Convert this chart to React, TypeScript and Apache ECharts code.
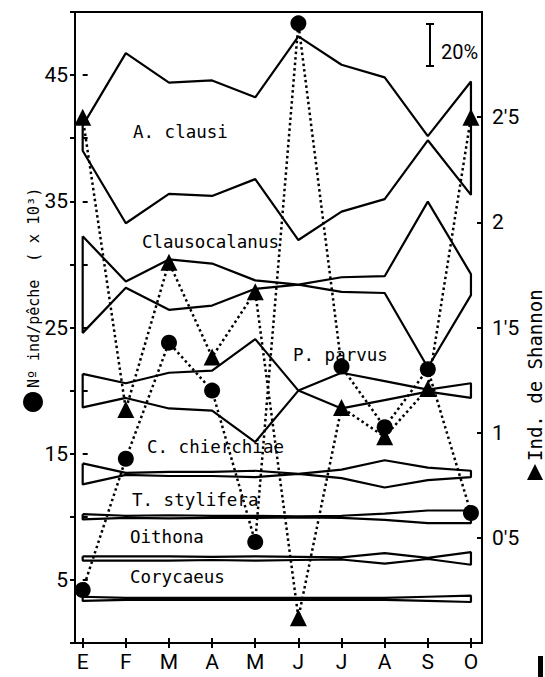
import React, { useEffect, useRef } from 'react';
import * as echarts from 'echarts';

// Months (x categories)
const months = ['E', 'F', 'M', 'A', 'M', 'J', 'J', 'A', 'S', 'O'];

// Nº ind/pêche (x 10^3) — circles, left axis
const individuals = [4.2, 14.6, 23.8, 20.0, 8.0, 49.1, 21.9, 17.1, 21.7, 10.3];
// Shannon index — triangles, right axis
const shannon = [2.5, 1.11, 1.81, 1.36, 1.67, 0.12, 1.12, 0.98, 1.21, 2.5];

// Kite diagrams: relative abundance (%) per month for each species
const speciesNames = ['A. clausi', 'Clausocalanus', 'P. parvus', 'C. chierchiae', 'T. stylifera', 'Oithona', 'Corycaeus'];
const aClausi = [12, 81, 53, 55, 39, 97, 70, 58, 2, 54];
const clausocalanus = [46, 3, 24, 20, 4, 0, 7, 8, 79, 10];
const pParvus = [16, 7, 17, 19, 49, 0, 17, 9, 1, 7];
const cChierchiae = [10, 1, 2, 2, 3, 0, 4, 13, 6, 3];
const tStylifera = [2.5, 1, 1.5, 1, 1, 0.5, 1, 3, 6, 6];
const oithona = [2, 2, 2, 1.5, 2, 1.5, 1, 5, 0.5, 6];
const corycaeus = [2, 1, 1, 1, 1, 1, 1, 1, 2, 3];
const speciesPct = [aClausi, clausocalanus, pParvus, cChierchiae, tStylifera, oithona, corycaeus];
// Kite centre lines (left-axis units)
const speciesBaselines = [40, 28.4, 20, 13.4, 10, 6.7, 3.5];

// Scale bar: 20% of abundance
const scaleBarPct = 20;
const unitsPerPct = 3.327 / scaleBarPct;

// Axis ticks
const leftTickLabels = [5, 15, 25, 35, 45];
const rightTickLabels = [0.5, 1, 1.5, 2, 2.5];

const tickFont = "Roboto, 'Liberation Sans', sans-serif";
const monoFont = "'DejaVu Sans Mono', 'Liberation Mono', monospace";

function kitePath(pct: number[], base: number): number[][] {
  const upper = pct.map((p, i) => [i, base + (p * unitsPerPct) / 2]);
  const lower = pct.map((p, i) => [i, base - (p * unitsPerPct) / 2]).reverse();
  return [...upper, ...lower, upper[0]];
}

const labelPos = [
  [133, 132],
  [142, 242],
  [293, 355],
  [147, 447],
  [132, 500],
  [130, 537],
  [130, 577],
];

export default function App() {
  const ref = useRef<HTMLDivElement>(null);
  useEffect(() => {
    if (!ref.current) return;
    const chart = echarts.init(ref.current, null, { renderer: 'svg' });
    const idx = months.map((_, i) => i);
    const xMin = -0.178;
    const xMax = 9.256;
    const black = '#000';

    const kiteSeries = speciesPct.map((pct, k) => ({
      type: 'line',
      name: speciesNames[k],
      xAxisIndex: 0,
      yAxisIndex: 0,
      data: kitePath(pct, speciesBaselines[k]),
      symbol: 'none',
      showSymbol: false,
      silent: true,
      z: 2,
      lineStyle: { color: black, width: 2.2 },
    }));

    const textStyle = (text: string, size: number, family: string) => ({
      text,
      fill: black,
      fontSize: size,
      fontFamily: family,
      textAlign: 'left',
      textVerticalAlign: 'middle',
      align: 'left',
      verticalAlign: 'middle',
    });

    const option: any = {
      animation: false,
      backgroundColor: '#fff',
      grid: {
        left: 75,
        right: 63,
        top: 12,
        bottom: 34,
        show: true,
        borderColor: black,
        borderWidth: 2,
        backgroundColor: 'transparent',
      },
      xAxis: [
        {
          type: 'value',
          min: xMin,
          max: xMax,
          position: 'bottom',
          axisLine: { show: true, onZero: false, lineStyle: { color: black, width: 2 } },
          axisTick: { show: true, customValues: idx, length: 5, lineStyle: { color: black, width: 2 } },
          axisLabel: {
            customValues: idx,
            formatter: (v: number) => months[Math.round(v)] ?? '',
            color: black,
            fontFamily: tickFont,
            fontSize: 21,
            margin: 8,
          },
          splitLine: { show: false },
        },
        {
          type: 'value',
          min: xMin,
          max: xMax,
          position: 'bottom',
          axisLine: { show: false },
          axisTick: { show: true, customValues: idx, inside: true, length: 5, lineStyle: { color: black, width: 2 } },
          axisLabel: { show: false },
          splitLine: { show: false },
        },
      ],
      yAxis: [
        {
          type: 'value',
          min: 0,
          max: 50,
          interval: 5,
          position: 'left',
          axisLine: { show: true, onZero: false, lineStyle: { color: black, width: 2 } },
          axisTick: { show: true, length: 5, lineStyle: { color: black, width: 2 } },
          axisLabel: {
            formatter: (v: number) => (leftTickLabels.includes(v) ? String(v) : ''),
            color: black,
            fontFamily: tickFont,
            fontSize: 21,
            margin: 7,
          },
          splitLine: { show: false },
        },
        {
          type: 'value',
          min: 0,
          max: 3,
          interval: 0.5,
          position: 'right',
          axisLine: { show: true, onZero: false, lineStyle: { color: black, width: 2 } },
          axisTick: { show: true, inside: true, length: 5, lineStyle: { color: black, width: 2 } },
          axisLabel: {
            formatter: (v: number) =>
              rightTickLabels.some((t) => Math.abs(t - v) < 1e-6) ? String(v).replace('.', "'") : '',
            color: black,
            fontFamily: tickFont,
            fontSize: 21,
            margin: 10,
          },
          splitLine: { show: false },
        },
        {
          type: 'value',
          min: 0,
          max: 50,
          interval: 5,
          position: 'left',
          axisLine: { show: false },
          axisTick: { show: true, inside: true, length: 5, lineStyle: { color: black, width: 2 } },
          axisLabel: { show: false },
          splitLine: { show: false },
        },
      ],
      series: [
        ...kiteSeries,
        {
          type: 'line',
          name: 'Nº ind/pêche',
          xAxisIndex: 0,
          yAxisIndex: 0,
          data: individuals.map((v, i) => [i, v]),
          symbol: 'circle',
          symbolSize: 16,
          showSymbol: true,
          itemStyle: { color: black },
          lineStyle: { color: black, width: 2.5, type: [2.5, 3] },
          z: 5,
        },
        {
          type: 'line',
          name: 'Ind. de Shannon',
          xAxisIndex: 0,
          yAxisIndex: 1,
          data: shannon.map((v, i) => [i, v]),
          symbol: 'triangle',
          symbolSize: 17,
          showSymbol: true,
          itemStyle: { color: black },
          lineStyle: { color: black, width: 2.5, type: [2.5, 3] },
          z: 5,
        },
      ],
      graphic: [
        ...speciesNames.map((name, k) => ({
          type: 'text',
          x: labelPos[k][0],
          y: labelPos[k][1],
          z: 10,
          style: textStyle(name, 17.5, monoFont),
        })),
        // left axis name (two parts)
        {
          type: 'text',
          x: 34,
          y: 388,
          rotation: Math.PI / 2,
          style: textStyle('Nº ind/pêche', 15, monoFont),
        },
        {
          type: 'text',
          x: 34,
          y: 262,
          rotation: Math.PI / 2,
          style: textStyle('( x 10³)', 15.5, monoFont),
        },
        { type: 'circle', shape: { cx: 33, cy: 402, r: 10 }, style: { fill: black } },
        // right axis name
        {
          type: 'text',
          x: 535,
          y: 461,
          rotation: Math.PI / 2,
          style: textStyle('Ind. de Shannon', 19, monoFont),
        },
        {
          type: 'polygon',
          shape: { points: [[535, 464], [527, 480], [543, 480]] },
          style: { fill: black },
        },
        // scale bar 20%
        { type: 'line', shape: { x1: 430, y1: 24, x2: 430, y2: 66 }, style: { stroke: black, lineWidth: 2 } },
        { type: 'line', shape: { x1: 426, y1: 24, x2: 434, y2: 24 }, style: { stroke: black, lineWidth: 2 } },
        { type: 'line', shape: { x1: 426, y1: 66, x2: 434, y2: 66 }, style: { stroke: black, lineWidth: 2 } },
        {
          type: 'text',
          x: 441,
          y: 52,
          style: textStyle(`${scaleBarPct}%`, 20, tickFont),
        },
        { type: 'rect', shape: { x: 538, y: 656, width: 5, height: 21 }, style: { fill: black } },
      ],
    };
    chart.setOption(option);
    return () => chart.dispose();
  }, []);
  return <div ref={ref} style={{ position: 'fixed', left: 0, top: 0, width: 545, height: 677 }} />;
}
